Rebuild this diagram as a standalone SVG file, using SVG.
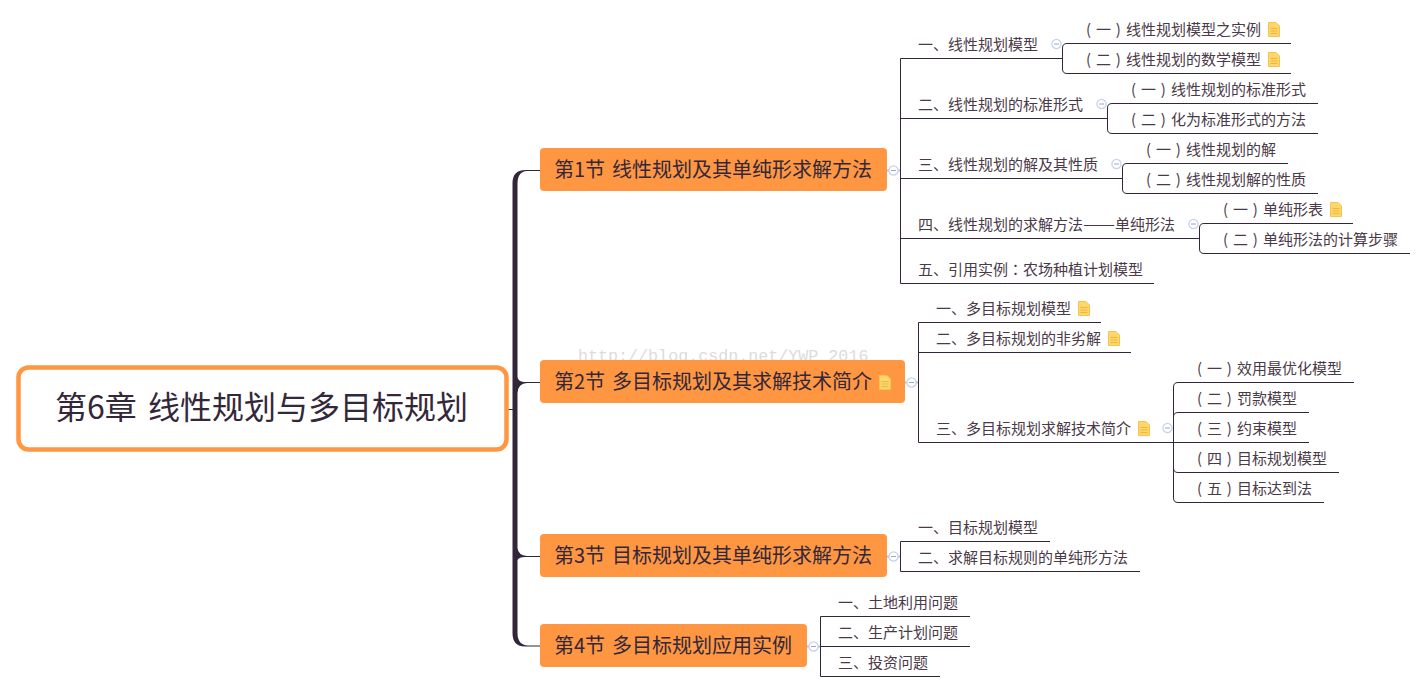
<svg xmlns="http://www.w3.org/2000/svg" width="1426" height="692" viewBox="0 0 1426 692">
<style>
text{font-family:"Noto Sans CJK SC","Microsoft YaHei",sans-serif;fill:#4a3a48}
.t{font-size:15px;word-spacing:1.5px}
.s{font-size:20px;fill:#33283a}
.r{font-size:32px;fill:#33283a}
.w{font-family:"Liberation Mono",monospace;font-size:16.7px;fill:#dcdcdc;word-spacing:0}
.box{fill:#ff9642}
.l{fill:none;stroke:#33263a;stroke-width:1}
.trunk{fill:#33263a}
.stub{fill:none;stroke:#b9bfd0;stroke-width:2}
</style>
<defs>
<g id="doc"><path d="M0.5 0.5H8L11.5 4V14.5H0.5Z" fill="#fdd76e" stroke="#f6c44a"/><path d="M2.5 6.500H9.500M2.500 9H9.500M2.500 11.500H9.500" stroke="#f0b63a" stroke-width="1"/></g>
<g id="col"><circle r="4.6" fill="#fff" stroke="#c7d4f0" stroke-width="1.3"/><path d="M-2.500 0H2.500" stroke="#9aa6c4" stroke-width="1"/></g>
</defs>
<text class="w" x="578" y="361">http://blog.csdn.net/YWP_2016</text>
<g id="connectors">
<path class="trunk" d="M512.500 183Q512.500 170 526 170H540V171H527Q517.500 171.500 517.500 184V377Q518 381.500 524 382H540V383H527Q518 383.500 517.500 393V548Q518 555 527 556H540V557H525Q519 557 517.500 560V633Q517.500 645 528 645.500H540V646.500H525Q512.500 646.500 512.500 633Z"/>
<path class="l" d="M506 409.500H513"/>
<path class="stub" d="M887 170.500H900M905 382.500H918M887 556.500H900M807 646.500H820"/>
<path class="l" d="M900.500 283.500V58.500H1062.500M900.500 118.500H1107.500M900.500 178.500H1122.500M900.500 238.500H1199.500M900.500 283.500H1154"/>
<path class="l" d="M1291 43.500H1067Q1062.500 43.500 1062.500 48V69Q1062.500 73.500 1067 73.500H1291"/>
<path class="l" d="M1318 103.500H1112Q1107.500 103.500 1107.500 108V129Q1107.500 133.500 1112 133.500H1318"/>
<path class="l" d="M1288 163.500H1127Q1122.500 163.500 1122.500 168V189Q1122.500 193.500 1127 193.500H1318"/>
<path class="l" d="M1353 223.500H1204Q1199.500 223.500 1199.500 228V249Q1199.500 253.500 1204 253.500H1410"/>
<path class="l" d="M1101 322.500H918.500V442.500H1173.500M918.500 352.500H1131"/>
<path class="l" d="M1354 382.500H1178Q1173.500 382.500 1173.500 387V498Q1173.500 502.500 1178 502.500H1324M1309 412.500H1178Q1173.500 412.500 1173.500 417M1173.500 438V442.500H1309M1173.500 468Q1173.500 472.500 1178 472.500H1339"/>
<path class="l" d="M1050 541.500H900.500V571.500H1140"/>
<path class="l" d="M970 616.500H820.500V676.500H940M820.500 646.500H970"/>
</g>
<g id="root"><rect x="18.500" y="367.500" width="488" height="82" rx="10" fill="#fff" stroke="#ff9642" stroke-width="4.500"/><text class="r" x="55" y="419">第6章 <tspan x="148">线性规划与多目标规划</tspan></text></g>
<g id="s1"><rect class="box" x="540" y="148" width="347" height="43" rx="4"/><text class="s" x="554" y="177">第1节 <tspan x="612">线性规划及其单纯形求解方法</tspan></text><use href="#col" x="893.500" y="170.500"/></g>
<g id="s2"><rect class="box" x="540" y="360" width="365" height="43" rx="4"/><text class="s" x="554" y="389">第2节 <tspan x="612">多目标规划及其求解技术简介</tspan></text><use href="#doc" x="879" y="375"/><use href="#col" x="911.500" y="382.500"/></g>
<g id="s3"><rect class="box" x="540" y="534" width="347" height="43" rx="4"/><text class="s" x="554" y="563">第3节 <tspan x="612">目标规划及其单纯形求解方法</tspan></text><use href="#col" x="893.500" y="556.500"/></g>
<g id="s4"><rect class="box" x="540" y="624" width="267" height="43" rx="4"/><text class="s" x="554" y="653">第4节 <tspan x="612">多目标规划应用实例</tspan></text><use href="#col" x="813.500" y="646.500"/></g>
<g id="n1"><text class="t" x="918" y="50">一、线性规划模型</text><use href="#col" x="1056.500" y="44"/></g>
<g id="n11"><text class="t" x="1086" y="35">( 一 )<tspan x="1126">线性规划模型之实例</tspan></text><use href="#doc" x="1268" y="22"/></g>
<g id="n12"><text class="t" x="1086" y="65">( 二 )<tspan x="1126">线性规划的数学模型</tspan></text><use href="#doc" x="1268" y="52"/></g>
<g id="n2"><text class="t" x="918" y="110">二、线性规划的标准形式</text><use href="#col" x="1101.500" y="104"/></g>
<g id="n21"><text class="t" x="1131" y="95">( 一 )<tspan x="1171">线性规划的标准形式</tspan></text></g>
<g id="n22"><text class="t" x="1131" y="125">( 二 )<tspan x="1171">化为标准形式的方法</tspan></text></g>
<g id="n3"><text class="t" x="918" y="170">三、线性规划的解及其性质</text><use href="#col" x="1116.500" y="164"/></g>
<g id="n31"><text class="t" x="1146" y="155">( 一 )<tspan x="1186">线性规划的解</tspan></text></g>
<g id="n32"><text class="t" x="1146" y="185">( 二 )<tspan x="1186">线性规划解的性质</tspan></text></g>
<g id="n4"><text class="t" x="918" y="230">四、线性规划的求解方法<tspan textLength="32" lengthAdjust="spacingAndGlyphs">——</tspan><tspan x="1115">单纯形法</tspan></text><use href="#col" x="1193.500" y="224"/></g>
<g id="n41"><text class="t" x="1223" y="215">( 一 )<tspan x="1263">单纯形表</tspan></text><use href="#doc" x="1330" y="202"/></g>
<g id="n42"><text class="t" x="1223" y="245">( 二 )<tspan x="1263">单纯形法的计算步骤</tspan></text></g>
<g id="n5"><text class="t" x="918" y="275">五、引用实例<tspan font-family="Noto Sans CJK TC">：</tspan>农场种植计划模型</text></g>
<g id="m1"><text class="t" x="936" y="314">一、多目标规划模型</text><use href="#doc" x="1078" y="301"/></g>
<g id="m2"><text class="t" x="936" y="344">二、多目标规划的非劣解</text><use href="#doc" x="1108" y="331"/></g>
<g id="m3"><text class="t" x="936" y="434">三、多目标规划求解技术简介</text><use href="#doc" x="1138" y="421"/><use href="#col" x="1167.500" y="428"/></g>
<g id="m31"><text class="t" x="1197" y="374">( 一 )<tspan x="1237">效用最优化模型</tspan></text></g>
<g id="m32"><text class="t" x="1197" y="404">( 二 )<tspan x="1237">罚款模型</tspan></text></g>
<g id="m33"><text class="t" x="1197" y="434">( 三 )<tspan x="1237">约束模型</tspan></text></g>
<g id="m34"><text class="t" x="1197" y="464">( 四 )<tspan x="1237">目标规划模型</tspan></text></g>
<g id="m35"><text class="t" x="1197" y="494">( 五 )<tspan x="1237">目标达到法</tspan></text></g>
<g id="p1"><text class="t" x="918" y="533">一、目标规划模型</text></g>
<g id="p2"><text class="t" x="918" y="563">二、求解目标规则的单纯形方法</text></g>
<g id="q1"><text class="t" x="838" y="608">一、土地利用问题</text></g>
<g id="q2"><text class="t" x="838" y="638">二、生产计划问题</text></g>
<g id="q3"><text class="t" x="838" y="668">三、投资问题</text></g>
</svg>
